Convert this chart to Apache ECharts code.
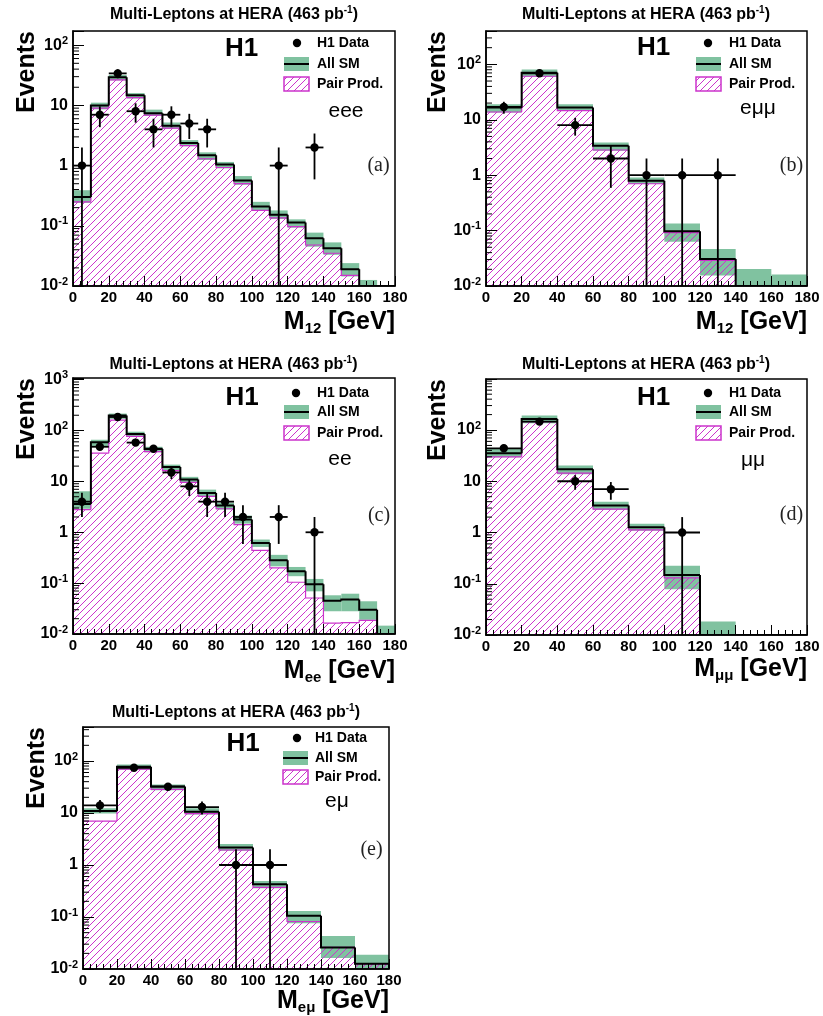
<!DOCTYPE html>
<html><head><meta charset="utf-8">
<script src="https://cdn.jsdelivr.net/npm/echarts@6/dist/echarts.min.js"></script>
<style>html,body{margin:0;padding:0;background:#fff}#c{width:823px;height:1016px}</style>
</head><body><div id="c"></div>
<script>
// ---------------- data ----------------
const edges10 = [0,10,20,30,40,50,60,70,80,90,100,110,120,130,140,150,160,170,180];
const edges20 = [0,20,40,60,80,100,120,140,160,180];

// (a) eee : M12
const smA     = [0.30, 10.0, 29.2, 14.7, 7.4, 4.6, 2.37, 1.48, 1.04, 0.565, 0.21, 0.153, 0.113, 0.062, 0.0425, 0.0189, 0.0098, 0];
const bandLoA = [0.24, 8.6, 26, 13, 6.7, 4.1, 2.1, 1.24, 0.9, 0.48, 0.176, 0.13, 0.093, 0.045, 0.033, 0.0144, 0.007, 0];
const bandHiA = [0.39, 11.1, 32, 16, 8.5, 5.2, 2.65, 1.66, 1.15, 0.67, 0.25, 0.18, 0.128, 0.077, 0.053, 0.024, 0.0126, 0];
const ppA     = [0.25, 9.0, 26.5, 13.5, 6.9, 4.2, 2.15, 1.3, 0.93, 0.5, 0.18, 0.135, 0.097, 0.048, 0.035, 0.015, 0.0085, 0];
const dataA   = [1, 7, 34, 8, 4, 7, 5, 4, 0, 0, 0, 1, 0, 2, 0, 0, 0, 0];
const errA    = [1, 2.65, 5.83, 2.83, 2, 2.65, 2.24, 2, 0, 0, 0, 1, 0, 1.41, 0, 0, 0, 0];

// (b) e mu mu : M12
const smB     = [16.6, 70.8, 16.6, 3.38, 0.79, 0.097, 0.0306, 0.0098, 0.0095];
const bandLoB = [13.5, 60, 14.4, 2.75, 0.69, 0.063, 0.0154, 0, 0];
const bandHiB = [19.0, 81, 19.0, 3.9, 0.91, 0.134, 0.0464, 0.0203, 0.0162];
const ppB     = [13.8, 61, 14.6, 2.85, 0.7, 0.092, 0.029, 0.0085, 0.0085];
const dataB   = [17, 69, 8, 2, 1, 1, 1, 0, 0];
const errB    = [4.12, 8.3, 2.83, 1.41, 1, 1, 1, 0, 0];

// (c) ee : Mee
const smC     = [3.6, 59, 197, 86, 43.6, 19.3, 10.9, 5.9, 3.35, 1.78, 0.617, 0.281, 0.171, 0.095, 0.0453, 0.0475, 0.0301, 0.0098];
const bandLoC = [2.9, 49, 170, 77, 37.5, 15.9, 9.3, 4.95, 2.8, 1.48, 0.515, 0.214, 0.137, 0.069, 0.028, 0.028, 0.019, 0.007];
const bandHiC = [6.4, 66, 216, 95, 48, 21.4, 12.3, 6.9, 3.8, 2.13, 0.72, 0.36, 0.208, 0.121, 0.0577, 0.062, 0.044, 0.0146];
const ppC     = [2.8, 36, 160, 77, 38.6, 16.3, 9.6, 5.1, 2.9, 1.42, 0.44, 0.2, 0.104, 0.051, 0.0164, 0.0168, 0.0186, 0];
const dataC   = [4, 48, 185, 58, 44, 15, 8, 4, 4, 2, 0, 2, 0, 1, 0, 0, 0, 0];
const errC    = [2, 6.93, 13.6, 7.62, 6.63, 3.87, 2.83, 2, 2, 1.41, 0, 1.41, 0, 1, 0, 0, 0, 0];

// (d) mu mu : Mmumu
const smD     = [35.3, 165, 17.2, 3.36, 1.27, 0.149, 0.0098, 0, 0];
const bandLoD = [29.5, 136, 13.7, 2.77, 1.08, 0.0785, 0, 0, 0];
const bandHiD = [42.7, 192, 20.2, 4.0, 1.48, 0.224, 0.0184, 0, 0];
const ppD     = [30, 146, 14.4, 2.85, 1.13, 0.13, 0.008, 0, 0];
const dataD   = [44, 146, 10, 7, 0, 1, 0, 0, 0];
const errD    = [6.63, 12.08, 3.16, 2.65, 0, 1, 0, 0, 0];

// (e) e mu : Memu
const smE     = [10.9, 77.3, 32.4, 10.6, 2.18, 0.425, 0.106, 0.0259, 0.0126];
const bandLoE = [9.8, 66.7, 27.5, 9.4, 1.88, 0.357, 0.076, 0.0162, 0.0095];
const bandHiE = [12.3, 85.8, 35.3, 12.3, 2.53, 0.49, 0.131, 0.0433, 0.0187];
const ppE     = [7.0, 69.6, 28.4, 9.7, 1.94, 0.37, 0.082, 0.026, 0.0124];
const dataE   = [14, 74, 32, 13, 1, 1, 0, 0, 0];
const errE    = [3.74, 8.6, 5.66, 3.61, 1, 1, 0, 0, 0];

const titleText = 'Multi-Leptons at HERA (463 pb';
const legendLabels = ['H1 Data', 'All SM', 'Pair Prod.'];
const channelLabels = ['eee', 'eμμ', 'ee', 'μμ', 'eμ'];
const panelLetters = ['(a)', '(b)', '(c)', '(d)', '(e)'];
const massSubs = ['12', '12', 'ee', 'μμ', 'eμ'];

// ---------------- styling / layout ----------------
const FONT = "'Liberation Sans', Arial, Helvetica, sans-serif";
const SERIF = "'Liberation Serif', 'Times New Roman', serif";
const GREEN = '#80c2a0';
const MAG = '#cc33cc';
const Y_MIN = 0.01;

function makeHatch() {
  const s = 7, c = document.createElement('canvas');
  c.width = s; c.height = s;
  const g = c.getContext('2d');
  g.strokeStyle = MAG; g.lineWidth = 1;
  g.beginPath();
  g.moveTo(0, s); g.lineTo(s, 0);
  g.moveTo(-1, 1); g.lineTo(1, -1);
  g.moveTo(s - 1, s + 1); g.lineTo(s + 1, s - 1);
  g.stroke();
  return c;
}
const HATCH = makeHatch();

const panels = [
  {edges: edges10, sm: smA, lo: bandLoA, hi: bandHiA, pp: ppA, n: dataA, err: errA, yMax: 172,
   grid: [73, 31, 322, 255], title: [234, 15], h1: [241.5, 48.5], leg: {mx: 297, bx: 284, tx: 317, rows: [43, 64, 84]},
   chan: [346, 111], letter: [378.5, 166], ytitle: [27, 31], xtitle: [395, 322]},
  {edges: edges20, sm: smB, lo: bandLoB, hi: bandHiB, pp: ppB, n: dataB, err: errB, yMax: 400,
   grid: [486, 31, 321, 255], title: [646, 15], h1: [653.5, 48], leg: {mx: 708, bx: 696, tx: 729, rows: [43, 64, 84]},
   chan: [758, 108], letter: [791.5, 166], ytitle: [438, 31], xtitle: [807, 322]},
  {edges: edges10, sm: smC, lo: bandLoC, hi: bandHiC, pp: ppC, n: dataC, err: errC, yMax: 1080,
   grid: [73, 378, 322, 256], title: [233.5, 365], h1: [242, 397.5], leg: {mx: 296, bx: 284, tx: 317, rows: [393, 412, 433]},
   chan: [340, 459], letter: [379, 516], ytitle: [27, 378], xtitle: [395, 671]},
  {edges: edges20, sm: smD, lo: bandLoD, hi: bandHiD, pp: ppD, n: dataD, err: errD, yMax: 990,
   grid: [486, 379, 321, 256], title: [646, 365], h1: [653.5, 397.5], leg: {mx: 708, bx: 696, tx: 729, rows: [393, 412, 433]},
   chan: [753, 460], letter: [791.5, 515], ytitle: [438, 379], xtitle: [807, 669]},
  {edges: edges20, sm: smE, lo: bandLoE, hi: bandHiE, pp: ppE, n: dataE, err: errE, yMax: 450,
   grid: [83, 727, 306, 242], title: [236, 713], h1: [243, 744], leg: {mx: 297, bx: 283, tx: 315, rows: [738, 758, 777]},
   chan: [337, 801], letter: [371.5, 849.5], ytitle: [37.5, 727], xtitle: [389, 1001]}
];

function yLabel(v) {
  const l = Math.log10(v), e = Math.round(l);
  if (Math.abs(l - e) > 1e-6) return '';
  if (e === 0) return '{m|1}';
  if (e === 1) return '{m|10}';
  return '{m|10}{s|' + e + '}';
}

const grids = [], xAxes = [], yAxes = [], series = [], graphics = [];

panels.forEach((p, i) => {
  const [gl, gt, gw, gh] = p.grid;
  grids.push({left: gl, top: gt, width: gw, height: gh, show: false});
  xAxes.push({
    type: 'value', gridIndex: i, min: 0, max: 180, interval: 20, z: 10,
    axisLine: {show: true, onZero: false, lineStyle: {color: '#000', width: 1.5}},
    axisTick: {show: true, inside: true, length: 10, lineStyle: {color: '#000', width: 1}},
    minorTick: {show: true, splitNumber: 5, length: 5, lineStyle: {color: '#000', width: 1}},
    splitLine: {show: false},
    axisLabel: {color: '#000', fontFamily: FONT, fontWeight: 'bold', fontSize: 15, margin: 4}
  });
  yAxes.push({
    type: 'log', gridIndex: i, min: Y_MIN, max: p.yMax, z: 10,
    axisLine: {show: true, onZero: false, lineStyle: {color: '#000', width: 1.5}},
    axisTick: {show: true, inside: true, length: 11, lineStyle: {color: '#000', width: 1}},
    minorTick: {show: false},
    splitLine: {show: false},
    axisLabel: {
      margin: 5, formatter: yLabel,
      rich: {
        m: {fontFamily: FONT, fontWeight: 'bold', fontSize: 16, color: '#000', lineHeight: 20},
        s: {fontFamily: FONT, fontWeight: 'bold', fontSize: 11, color: '#000', lineHeight: 8, verticalAlign: 'top'}
      }
    }
  });

  const nb = p.sm.length;
  // uncertainty band
  const bandData = [];
  for (let k = 0; k < nb; k++) if (p.hi[k] > 0) bandData.push([p.edges[k], p.edges[k + 1], p.lo[k], p.hi[k]]);
  series.push({
    type: 'custom', xAxisIndex: i, yAxisIndex: i, z: 2, clip: true, silent: true,
    encode: {x: [0, 1], y: 3}, data: bandData,
    renderItem(params, api) {
      const lo = Math.max(api.value(2), Y_MIN), hi = api.value(3);
      if (!(hi > Y_MIN)) return;
      const a = api.coord([api.value(0), hi]), b = api.coord([api.value(1), lo]);
      return {type: 'rect', shape: {x: a[0], y: a[1], width: b[0] - a[0], height: b[1] - a[1]}, style: {fill: GREEN}};
    }
  });
  // pair production hatch
  const ppData = [];
  for (let k = 0; k < nb; k++) if (p.pp[k] > 0) ppData.push([p.edges[k], p.edges[k + 1], p.pp[k]]);
  series.push({
    type: 'custom', xAxisIndex: i, yAxisIndex: i, z: 3, clip: true, silent: true,
    encode: {x: [0, 1], y: 2}, data: ppData,
    renderItem(params, api) {
      const v = api.value(2);
      if (!(v > Y_MIN)) return;
      const a = api.coord([api.value(0), v]), b = api.coord([api.value(1), Y_MIN]);
      return {type: 'rect', shape: {x: a[0], y: a[1], width: b[0] - a[0], height: b[1] - a[1]},
              style: {fill: {image: HATCH, repeat: 'repeat'}}};
    }
  });
  // step outlines
  function stepSeries(vals, color, width, z) {
    const data = [];
    for (let k = 0; k < vals.length; k++) {
      data.push([p.edges[k], p.edges[k + 1], vals[k], k > 0 ? vals[k - 1] : 0, k === vals.length - 1 ? 1 : 0]);
    }
    return {
      type: 'custom', xAxisIndex: i, yAxisIndex: i, z, clip: true, silent: true,
      encode: {x: [0, 1], y: 2}, data,
      renderItem(params, api) {
        const x0 = api.value(0), x1 = api.value(1);
        const v = Math.max(api.value(2), Y_MIN), vp = Math.max(api.value(3), Y_MIN);
        const pts = [api.coord([x0, vp]), api.coord([x0, v]), api.coord([x1, v])];
        if (api.value(4)) pts.push(api.coord([x1, Y_MIN]));
        return {type: 'polyline', shape: {points: pts}, style: {stroke: color, lineWidth: width, fill: null}};
      }
    };
  }
  series.push(stepSeries(p.pp, MAG, 1.2, 4));
  series.push(stepSeries(p.sm, '#000', 2, 5));
  // data points
  const pts = [];
  for (let k = 0; k < nb; k++) if (p.n[k] > 0) pts.push([(p.edges[k] + p.edges[k + 1]) / 2, p.n[k], p.err[k], p.edges[k], p.edges[k + 1]]);
  series.push({
    type: 'custom', xAxisIndex: i, yAxisIndex: i, z: 6, clip: false, silent: true,
    encode: {x: 0, y: 1}, data: pts,
    renderItem(params, api) {
      const xc = api.value(0), n = api.value(1), e = api.value(2);
      const c = api.coord([xc, n]);
      const t = api.coord([xc, n + e]), b = api.coord([xc, Math.max(n - e, Y_MIN)]);
      const l = api.coord([api.value(3), n]), r = api.coord([api.value(4), n]);
      const ls = {stroke: '#000', lineWidth: 1.8};
      return {type: 'group', children: [
        {type: 'line', shape: {x1: t[0], y1: t[1], x2: b[0], y2: b[1]}, style: ls},
        {type: 'line', shape: {x1: l[0], y1: l[1], x2: r[0], y2: r[1]}, style: ls},
        {type: 'circle', shape: {cx: c[0], cy: c[1], r: 4.2}, style: {fill: '#000'}}
      ]};
    }
  });
  // y minor ticks (log 2..9)
  const minor = [];
  for (let e = -2; e <= 3; e++) for (let m = 2; m <= 9; m++) {
    const v = m * Math.pow(10, e);
    if (v < p.yMax) minor.push([0, v]);
  }
  series.push({
    type: 'custom', xAxisIndex: i, yAxisIndex: i, z: 11, clip: true, silent: true,
    encode: {x: 0, y: 1}, data: minor,
    renderItem(params, api) {
      const c = api.coord([api.value(0), api.value(1)]);
      return {type: 'line', shape: {x1: c[0], y1: c[1], x2: c[0] + 6, y2: c[1]}, style: {stroke: '#000', lineWidth: 1}};
    }
  });

  // ----- graphics: frame, titles, legend, labels -----
  graphics.push({type: 'rect', z: 100, silent: true, shape: {x: gl, y: gt, width: gw, height: gh},
    style: {fill: null, stroke: '#000', lineWidth: 1.5}});
  graphics.push({type: 'text', z: 100, x: p.title[0], y: p.title[1], silent: true, style: {
    text: '{t|' + titleText + '}{s|-1}{t|)}', align: 'center', verticalAlign: 'middle', textAlign: 'center', textVerticalAlign: 'middle',
    rich: {t: {fontFamily: FONT, fontWeight: 'bold', fontSize: 16, lineHeight: 19, fill: '#000'},
           s: {fontFamily: FONT, fontWeight: 'bold', fontSize: 10, lineHeight: 10, verticalAlign: 'top', fill: '#000'}}}});
  graphics.push({type: 'text', z: 100, x: p.h1[0], y: p.h1[1], silent: true, style: {
    text: 'H1', font: 'bold 26px ' + FONT, fill: '#000', align: 'center', verticalAlign: 'middle', textAlign: 'center', textVerticalAlign: 'middle'}});
  const L = p.leg;
  graphics.push({type: 'circle', z: 100, silent: true, shape: {cx: L.mx, cy: L.rows[0], r: 4.2}, style: {fill: '#000'}});
  graphics.push({type: 'rect', z: 100, silent: true, shape: {x: L.bx, y: L.rows[1] - 7, width: 25, height: 14}, style: {fill: GREEN}});
  graphics.push({type: 'line', z: 101, silent: true, shape: {x1: L.bx, y1: L.rows[1], x2: L.bx + 25, y2: L.rows[1]}, style: {stroke: '#000', lineWidth: 2}});
  graphics.push({type: 'rect', z: 100, silent: true, shape: {x: L.bx, y: L.rows[2] - 7, width: 25, height: 14},
    style: {fill: {image: HATCH, repeat: 'repeat'}, stroke: MAG, lineWidth: 1.5}});
  legendLabels.forEach((t, j) => graphics.push({type: 'text', z: 100, silent: true, x: L.tx, y: L.rows[j], style: {
    text: t, font: 'bold 14px ' + FONT, fill: '#000', align: 'left', verticalAlign: 'middle', textAlign: 'left', textVerticalAlign: 'middle'}}));
  graphics.push({type: 'text', z: 100, silent: true, x: p.chan[0], y: p.chan[1], style: {
    text: channelLabels[i], font: '21px ' + FONT, fill: '#000', align: 'center', verticalAlign: 'middle', textAlign: 'center', textVerticalAlign: 'middle'}});
  graphics.push({type: 'text', z: 100, silent: true, x: p.letter[0], y: p.letter[1], style: {
    text: panelLetters[i], font: '20px ' + SERIF, fill: '#222', align: 'center', verticalAlign: 'middle', textAlign: 'center', textVerticalAlign: 'middle'}});
  graphics.push({type: 'text', z: 100, silent: true, x: p.ytitle[0], y: p.ytitle[1], rotation: Math.PI / 2, style: {
    text: 'Events', font: 'bold 25px ' + FONT, fill: '#000', align: 'right', verticalAlign: 'middle', textAlign: 'right', textVerticalAlign: 'middle'}});
  graphics.push({type: 'text', z: 100, silent: true, x: p.xtitle[0], y: p.xtitle[1], style: {
    text: '{m|M}{s|' + massSubs[i] + '}{m| [GeV]}', align: 'right', verticalAlign: 'middle', textAlign: 'right', textVerticalAlign: 'middle',
    rich: {m: {fontFamily: FONT, fontWeight: 'bold', fontSize: 25, lineHeight: 28, fill: '#000'},
           s: {fontFamily: FONT, fontWeight: 'bold', fontSize: 15, lineHeight: 10, verticalAlign: 'bottom', fill: '#000'}}}});
});

const chart = echarts.init(document.getElementById('c'), null, {renderer: 'canvas'});
chart.setOption({
  animation: false,
  backgroundColor: '#fff',
  grid: grids, xAxis: xAxes, yAxis: yAxes, series, graphic: graphics
});
</script>
</body></html>
